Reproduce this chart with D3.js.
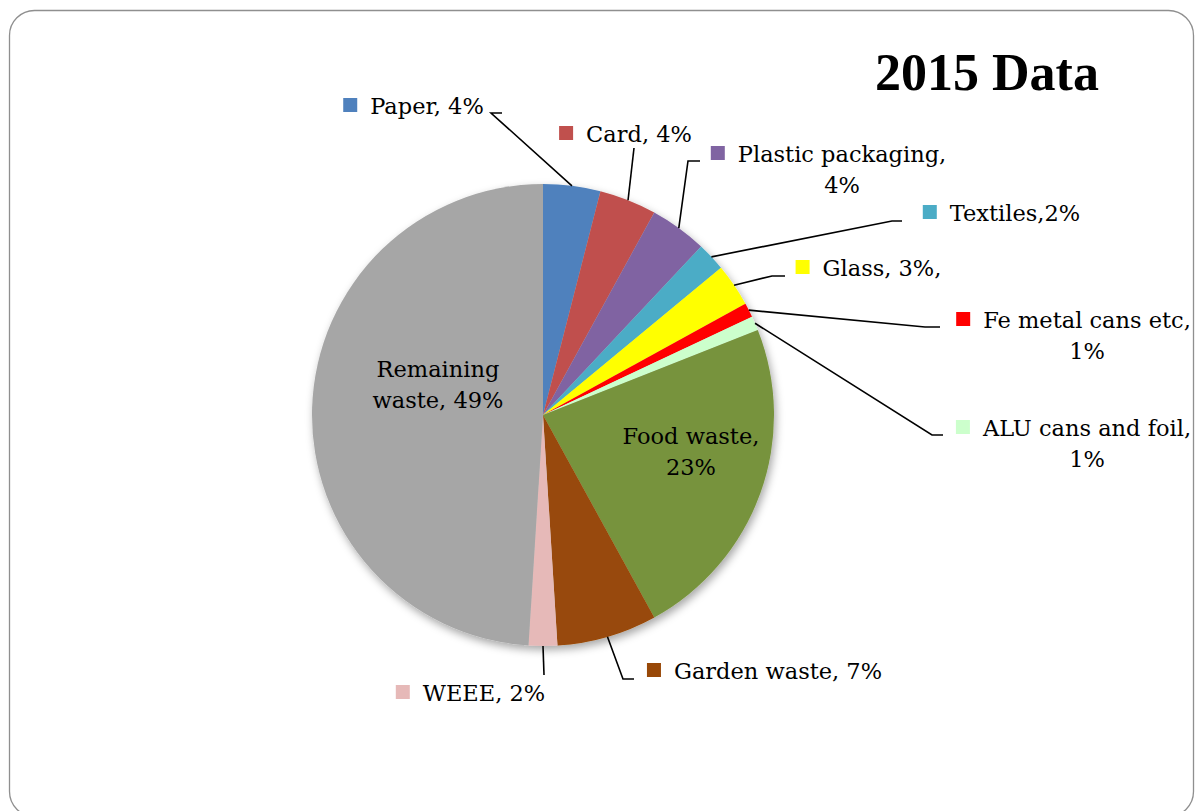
<!DOCTYPE html>
<html>
<head>
<meta charset="utf-8">
<script src="https://cdn.jsdelivr.net/npm/d3@7"></script>
<style>
  html, body { margin: 0; padding: 0; background: #fff; }
  svg { display: block; }
</style>
</head>
<body>
<svg id="chart" width="1195" height="811"></svg>
<script>
// Household waste composition, 2015 (percent of total)
const categories = ["Paper", "Card", "Plastic packaging", "Textiles", "Glass",
  "Fe metal cans etc", "ALU cans and foil", "Food waste", "Garden waste", "WEEE", "Remaining waste"];
const values = [4, 4, 4, 2, 3, 1, 1, 23, 7, 2, 49];
const labelText = [
  ["Paper, 4%"],
  ["Card, 4%"],
  ["Plastic packaging,", "4%"],
  ["Textiles,2%"],
  ["Glass, 3%,"],
  ["Fe metal cans etc,", "1%"],
  ["ALU cans and foil,", "1%"],
  ["Food waste,", "23%"],
  ["Garden waste, 7%"],
  ["WEEE, 2%"],
  ["Remaining", "waste, 49%"]
];
const colors = ["#4F81BD", "#C0504D", "#8064A2", "#4BACC6", "#FFFF00",
  "#FF0000", "#CCFFCC", "#77933C", "#984807", "#E6B9B8", "#A6A6A6"];

// Label placement: text centre x, first baseline y, whether a legend key is shown,
// and leader elbow / end points (null when the label sits on the slice)
const labelLayout = [
  { cx: 427, y: 114, key: true, elbow: [491, 113], end: [502, 113] },
  { cx: 639, y: 142, key: true, elbow: [634, 148], end: null },
  { cx: 842, y: 162, key: true, elbow: [688, 161], end: [700, 161] },
  { cx: 1015, y: 221, key: true, elbow: [892, 221], end: [902, 221] },
  { cx: 882, y: 276, key: true, elbow: [772, 276], end: [785, 276] },
  { cx: 1087, y: 328, key: true, elbow: [925, 327], end: [940, 327] },
  { cx: 1087, y: 436, key: true, elbow: [932, 435], end: [943, 435] },
  { cx: 691, y: 444, key: false, elbow: null, end: null },
  { cx: 778, y: 679, key: true, elbow: [623, 679], end: [634, 679] },
  { cx: 484, y: 701, key: true, elbow: [544, 675], end: null },
  { cx: 438, y: 377, key: false, elbow: null, end: null }
];

const svg = d3.select("#chart");
const W = 1195, H = 811;
const cx = 543, cy = 415, R = 231;
const FONT = "'DejaVu Serif', 'Liberation Serif', serif";
const lineGap = 31;

// slide frame
svg.append("rect")
  .attr("x", 9.5).attr("y", 10.5)
  .attr("width", 1184).attr("height", 806)
  .attr("rx", 25).attr("ry", 25)
  .attr("fill", "#fff")
  .attr("stroke", "#8f8f8f")
  .attr("stroke-width", 1.3);

// title
svg.append("text")
  .attr("x", 987).attr("y", 90)
  .attr("text-anchor", "middle")
  .attr("font-family", "'Liberation Serif', serif")
  .attr("font-weight", "bold")
  .attr("font-size", 52)
  .attr("fill", "#000")
  .text("2015 Data");

// soft shadow under the pie
const defs = svg.append("defs");
const f = defs.append("filter").attr("id", "pieShadow")
  .attr("x", "-20%").attr("y", "-20%").attr("width", "140%").attr("height", "140%");
f.append("feDropShadow")
  .attr("dx", 2).attr("dy", 4).attr("stdDeviation", 4)
  .attr("flood-color", "#000").attr("flood-opacity", 0.35);

const data = categories.map((c, i) => ({ name: c, value: values[i], i }));
const pie = d3.pie().value(d => d.value).sort(null);
const arcs = pie(data);
const arc = d3.arc().innerRadius(0).outerRadius(R);

const g = svg.append("g").attr("transform", `translate(${cx},${cy})`);
g.append("g").attr("filter", "url(#pieShadow)")
  .selectAll("path")
  .data(arcs)
  .join("path")
  .attr("d", arc)
  .attr("fill", d => colors[d.data.i]);

// point on the rim at the middle of a slice, in page coordinates
function rimPoint(a) {
  const m = (a.startAngle + a.endAngle) / 2;
  return [cx + R * Math.sin(m), cy - R * Math.cos(m)];
}

// leader lines
arcs.forEach(a => {
  const L = labelLayout[a.data.i];
  if (!L.elbow) return;
  const pts = [rimPoint(a), L.elbow];
  if (L.end) pts.push(L.end);
  svg.append("path")
    .attr("d", d3.line()(pts))
    .attr("fill", "none")
    .attr("stroke", "#000")
    .attr("stroke-width", 1.6);
});

// labels with legend keys
arcs.forEach(a => {
  const i = a.data.i;
  const L = labelLayout[i];
  const lines = labelText[i];
  const t = svg.append("text")
    .attr("font-family", FONT)
    .attr("font-size", 22.5)
    .attr("fill", "#000")
    .attr("text-anchor", "middle");
  lines.forEach((s, k) => {
    t.append("tspan").attr("x", L.cx).attr("y", L.y + k * lineGap).text(s);
  });
  if (L.key) {
    const w1 = t.select("tspan").node().getComputedTextLength();
    const size = 14;
    svg.append("rect")
      .attr("x", L.cx - w1 / 2 - 13 - size)
      .attr("y", L.y - 16)
      .attr("width", size).attr("height", size)
      .attr("fill", colors[i]);
  }
});
</script>
</body>
</html>
